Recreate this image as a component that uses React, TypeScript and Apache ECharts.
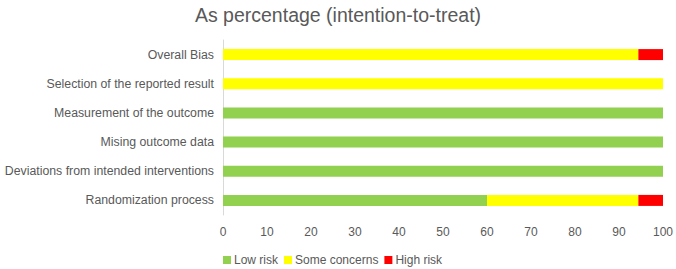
import React, { useEffect, useRef } from "react";
import * as echarts from "echarts";

const categories = [
  "Randomization process",
  "Deviations from intended interventions",
  "Mising outcome data",
  "Measurement of the outcome",
  "Selection of the reported result",
  "Overall Bias",
];
const lowRisk = [60, 100, 100, 100, 0, 0];
const someConcerns = [34.4, 0, 0, 0, 100, 94.4];
const highRisk = [5.6, 0, 0, 0, 0, 5.6];
const xTicks = [0, 10, 20, 30, 40, 50, 60, 70, 80, 90, 100];

export default function App() {
  const ref = useRef<HTMLDivElement>(null);
  useEffect(() => {
    if (!ref.current) return;
    const chart = echarts.init(ref.current, undefined, { renderer: "svg" });
    const font = "Liberation Sans, Arial, sans-serif";
    chart.setOption({
      animation: false,
      title: {
        text: "As percentage (intention-to-treat)",
        left: "center",
        top: 0,
        textStyle: { fontFamily: font, fontSize: 19.5, fontWeight: "normal", color: "#595959" },
      },
      legend: {
        left: 218,
        top: 249,
        itemWidth: 8,
        itemHeight: 8,
        itemGap: 6,
        icon: "rect",
        textStyle: { fontFamily: font, fontSize: 12, color: "#595959", padding: [0, 0, 0, -2] },
        data: ["Low risk", "Some concerns", "High risk"],
      },
      grid: { left: 223, right: 12, top: 40, bottom: 54, containLabel: false },
      xAxis: {
        type: "value",
        min: xTicks[0],
        max: xTicks[xTicks.length - 1],
        interval: 10,
        axisLine: { show: false },
        axisTick: { show: false },
        splitLine: { show: false },
        axisLabel: { fontFamily: font, fontSize: 12, color: "#595959", margin: 11 },
      },
      yAxis: {
        type: "category",
        data: categories,
        axisLine: { show: true, lineStyle: { color: "#d9d9d9" } },
        axisTick: { show: false },
        axisLabel: { fontFamily: font, fontSize: 12.3, color: "#595959", margin: 9 },
      },
      series: [
        { name: "Low risk", type: "bar", stack: "s", data: lowRisk, barWidth: 11, itemStyle: { color: "#92d050" } },
        { name: "Some concerns", type: "bar", stack: "s", data: someConcerns, barWidth: 11, itemStyle: { color: "#ffff00" } },
        { name: "High risk", type: "bar", stack: "s", data: highRisk, barWidth: 11, itemStyle: { color: "#ff0000" } },
      ],
    });
    return () => chart.dispose();
  }, []);
  return <div ref={ref} style={{ width: 676, height: 269, position: "absolute", left: 0, top: 0 }} />;
}
